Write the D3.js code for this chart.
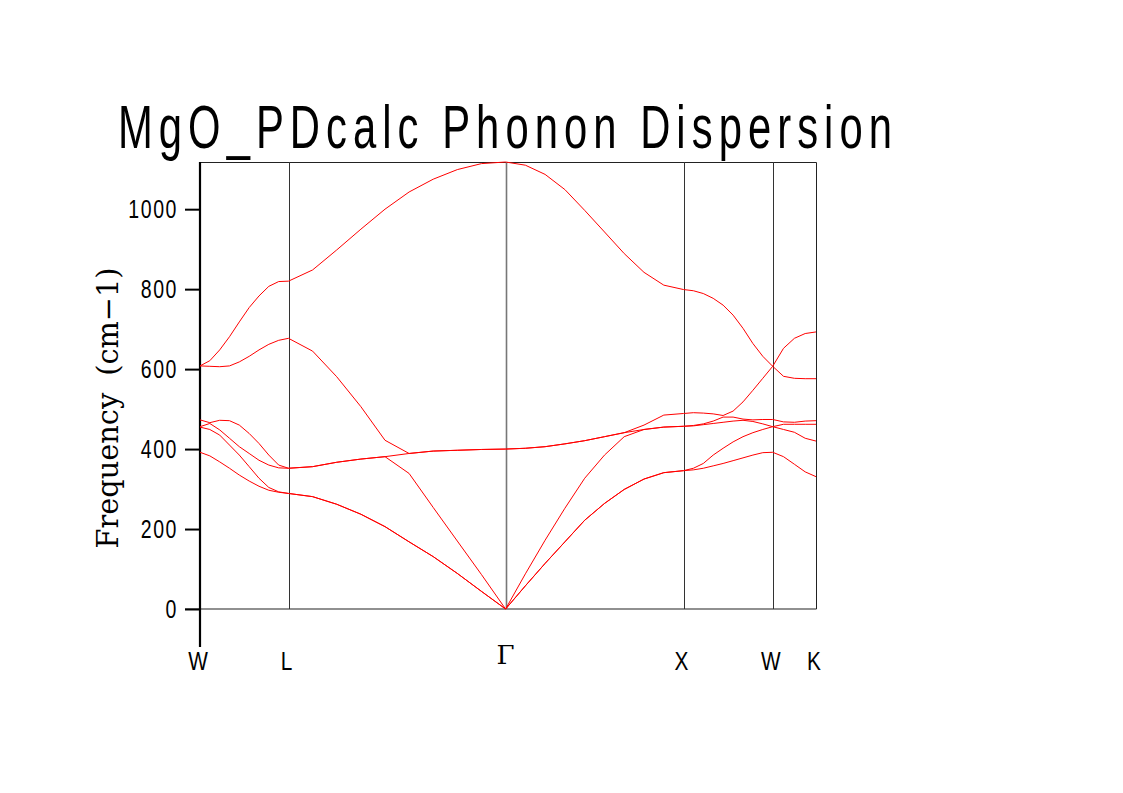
<!DOCTYPE html>
<html>
<head>
<meta charset="utf-8">
<script src="https://cdn.jsdelivr.net/npm/d3@7"></script>
<style>
  body { margin: 0; background: #fff; }
  .chart-container { width: 1123px; height: 793px; }
</style>
</head>
<body>
<div class="chart-container"></div>
<script>

// high symmetry points along the path (distance units)
const kLabels = ['W', 'L', '\u0393', 'X', 'W', 'K'];
const kTicks = [0, 0.885, 3.056, 4.835, 5.727, 6.160];

// k-point distances of the computed q-path
const kDist = [
  0, 0.098, 0.197, 0.295, 0.393, 0.492, 0.590, 0.688, 0.787, 0.885,
  1.126, 1.367, 1.609, 1.850, 2.091, 2.332, 2.573, 2.815, 3.056,
  3.254, 3.451, 3.649, 3.847, 4.045, 4.242, 4.440, 4.638, 4.835,
  4.934, 5.033, 5.132, 5.231, 5.331, 5.430, 5.529, 5.628, 5.727,
  5.835, 5.944, 6.052, 6.160
];

// frequencies (cm-1), one array per band
const band1 = [
  392, 383, 368, 352, 335, 320, 307, 297, 292, 289,
  281, 262, 237, 206, 168, 131, 89, 44, 0,
  58, 114, 168, 222, 264, 299, 325, 341, 346,
  348, 352, 358, 364, 371, 378, 385, 391, 392,
  381, 362, 343, 331
];
const band2 = [
  455, 449, 435, 410, 385, 356, 327, 304, 293, 289,
  281, 262, 237, 206, 168, 131, 89, 44, 0,
  58, 114, 168, 222, 264, 299, 325, 341, 346,
  352, 364, 385, 402, 418, 431, 441, 449, 456,
  449, 442, 427, 420
];
const band3 = [
  456, 464, 448, 427, 406, 389, 372, 360, 353, 352,
  356, 367, 375, 381, 339, 254, 170, 86, 0,
  88, 172, 252, 327, 385, 431, 449, 455, 457,
  458, 461, 464, 467, 470, 472, 469, 463, 456,
  462, 462, 462, 462
];
const band4 = [
  473, 466, 472, 471, 460, 439, 414, 385, 360, 352,
  356, 367, 375, 381, 389, 395, 397, 399, 400,
  402, 406, 413, 421, 431, 441, 449, 455, 457,
  459, 463, 470, 480, 480, 475, 473, 474, 474,
  468, 467, 470, 471
];
const band5 = [
  608, 607, 606, 608, 618, 632, 648, 662, 672, 677,
  645, 581, 506, 422, 389, 395, 397, 399, 400,
  402, 406, 413, 421, 431, 441, 460, 485, 489,
  491, 490, 488, 484, 495, 518, 547, 577, 607,
  582, 577, 576, 576
];
const band6 = [
  608, 621, 648, 681, 718, 754, 783, 807, 819, 820,
  848, 898, 950, 1000, 1043, 1075, 1099, 1114, 1118,
  1110, 1087, 1049, 997, 943, 889, 842, 810, 799,
  796, 789, 777, 760, 735, 702, 664, 632, 607,
  652, 677, 689, 693
];

const yTicks = [0, 200, 400, 600, 800, 1000];

const W = 1123;
const H = 793;

const margin = {
  t: 162,
  r: 307,
  b: 184,
  l: 200
};
const innerWidth = W - margin.l - margin.r;
const innerHeight = H - margin.t - margin.b;

const sansFont = '"Liberation Sans", Arial, sans-serif';
const serifFont = '"DejaVu Serif", serif';

const bands = [band1, band2, band3, band4, band5, band6];

// squeeze glyphs horizontally to get a narrow face
function narrow(sel, k) {
  sel.each(function() {
    const w = this.getComputedTextLength();
    d3.select(this)
      .attr('textLength', w * k)
      .attr('lengthAdjust', 'spacingAndGlyphs');
  });
}

const svg = d3.select('.chart-container')
  .append('svg')
  .attr('width', W)
  .attr('height', H);

const plot = svg.append('g')
  .attr('class', 'plot')
  .attr('transform', `translate(${margin.l}, ${margin.t})`);

const x = d3.scaleLinear().domain([0, d3.max(kTicks)]).range([0, innerWidth]);
const y = d3.scaleLinear().domain([0, d3.max(bands, b => d3.max(b))]).range([innerHeight, 0]);

// frame: top and right edges
plot.append('path')
  .attr('d', `M0,0.5H${innerWidth + 0.5}V${innerHeight}`)
  .attr('fill', 'none')
  .attr('stroke', '#222')
  .attr('stroke-width', 1);

// zero line
plot.append('line')
  .attr('x1', -15).attr('x2', innerWidth + 0.5)
  .attr('y1', y(0)).attr('y2', y(0))
  .attr('stroke', '#222')
  .attr('stroke-width', 1.2);

// vertical lines at high symmetry points
plot.selectAll('.kline')
  .data(kTicks.slice(1, -1))
  .enter()
  .append('line')
  .attr('class', 'kline')
  .attr('x1', d => Math.round(x(d)) + 0.5).attr('x2', d => Math.round(x(d)) + 0.5)
  .attr('y1', 0).attr('y2', innerHeight)
  .attr('stroke', (d, i) => i === 1 ? '#777' : '#333')
  .attr('stroke-width', (d, i) => i === 1 ? 1.6 : 1);

// y axis
const yAxis = d3.axisLeft(y)
  .tickValues(yTicks)
  .tickSize(15)
  .tickPadding(7)
  .tickFormat(d3.format('d'));

const yAxisG = plot.append('g')
  .attr('class', 'y-axis')
  .call(yAxis);

yAxisG.select('.domain').remove();
yAxisG.selectAll('.tick line')
  .attr('stroke', '#000')
  .attr('stroke-width', 2);
yAxisG.selectAll('.tick text')
  .attr('font-family', sansFont)
  .attr('font-size', 25)
  .attr('letter-spacing', 2)
  .attr('fill', '#000')
  .call(narrow, 0.78);

// left spine, running below the zero line
plot.append('line')
  .attr('x1', 0).attr('x2', 0)
  .attr('y1', 0).attr('y2', innerHeight + 38)
  .attr('stroke', '#000')
  .attr('stroke-width', 2.2);

// k point labels
plot.selectAll('.klabel')
  .data(kLabels)
  .enter()
  .append('text')
  .attr('class', 'klabel')
  .attr('x', (d, i) => x(kTicks[i]) - (d === '\u0393' ? 0 : 2))
  .attr('y', d => d === '\u0393' ? innerHeight + 55 : innerHeight + 61)
  .attr('text-anchor', 'middle')
  .attr('font-family', d => d === '\u0393' ? serifFont : sansFont)
  .attr('font-size', 26)
  .attr('fill', '#000')
  .text(d => d)
  .filter(d => d !== '\u0393')
  .call(narrow, 0.8);

// the bands
const line = d3.line()
  .x((d, i) => x(kDist[i]))
  .y(d => y(d));

plot.selectAll('.band')
  .data(bands)
  .enter()
  .append('path')
  .attr('class', 'band')
  .attr('d', d => line(d))
  .attr('fill', 'none')
  .attr('stroke', '#ff0000')
  .attr('stroke-width', 1);

// titles
svg.append('text')
  .attr('x', 118)
  .attr('y', 148)
  .attr('font-family', sansFont)
  .attr('font-size', 62)
  .attr('letter-spacing', 9)
  .attr('textLength', 780)
  .attr('lengthAdjust', 'spacingAndGlyphs')
  .attr('fill', '#000')
  .text('MgO_PDcalc Phonon Dispersion');

svg.append('text')
  .attr('transform', `translate(118, 408) rotate(-90)`)
  .attr('text-anchor', 'middle')
  .attr('font-family', serifFont)
  .attr('font-size', 29)
  .attr('word-spacing', 8)
  .attr('textLength', 281)
  .attr('lengthAdjust', 'spacingAndGlyphs')
  .attr('fill', '#000')
  .text('Frequency (cm\u22121)');

</script>
</body>
</html>
